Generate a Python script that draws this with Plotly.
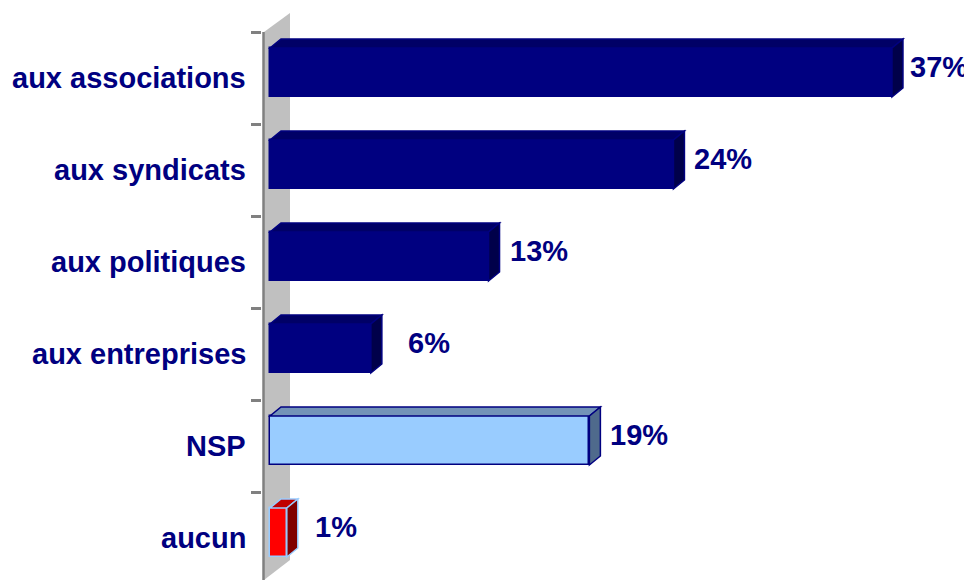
import plotly.graph_objects as go

# ---- data ----
categories = ["aux associations", "aux syndicats", "aux politiques",
              "aux entreprises", "NSP", "aucun"]
values = [37, 24, 13, 6, 19, 1]
value_labels = ["37%", "24%", "13%", "6%", "19%", "1%"]

# ---- styles ----
front_colors = ["#000080", "#000080", "#000080", "#000080", "#99CCFF", "#FF0000"]
top_colors = ["#000066", "#000066", "#000066", "#000066", "#7393B8", "#C00000"]
side_colors = ["#00004A", "#00004A", "#00004A", "#00004A", "#4F6A8C", "#800000"]
line_colors = ["#000080", "#000080", "#000080", "#000080", "#000080", "#99CCFF"]
label_gaps = [5, 8, 8, 24, 8, 15]

# page is rendered with an 8px body margin; work in page pixels and offset
OFF = 8
W, H = 972 - OFF, 580 - OFF
PXU = 16.81                 # pixels per percent
ORIGIN_PX = 270 - OFF       # pixel of x = 0
CAT_PX = 92                 # pixels per category
SEP0_PX = 32 - OFF          # pixel of first category separator
ML, MR, MT, MB = 262 - OFF, 0, 13 - OFF, 0
PW = W - ML - MR

X0 = (ML - ORIGIN_PX) / PXU
X1 = X0 + PW / PXU
Y_TOP = -0.5 - (SEP0_PX - MT) / CAT_PX
Y_BOT = -0.5 + (H - MB - SEP0_PX) / CAT_PX


def xd(px):
    return (px - OFF - ORIGIN_PX) / PXU


def yd(py):
    return (py - OFF - SEP0_PX) / CAT_PX - 0.5


DX = 11 / PXU
DY = 9 / CAT_PX
F_TOP = -30 / CAT_PX
F_BOT = 19 / CAT_PX

fig = go.Figure()

ypos = [i + (F_TOP + F_BOT) / 2 for i in range(len(categories))]
fig.add_trace(go.Bar(
    x=values, y=ypos, orientation="h", base=0,
    width=F_BOT - F_TOP,
    marker=dict(color=front_colors, line=dict(color=line_colors, width=1.5)),
    hoverinfo="skip", showlegend=False,
))

shapes = []
# back wall
wall = (f"M {xd(264)},{yd(32)} L {xd(290)},{yd(13)} L {xd(290)},{yd(560)} "
        f"L {xd(264)},{yd(580)} Z")
shapes.append(dict(type="path", path=wall, xref="x", yref="y",
                   fillcolor="#C0C0C0", line=dict(width=0), layer="below"))
# axis line
shapes.append(dict(type="line", xref="x", yref="y", x0=xd(263.5), x1=xd(263.5),
                   y0=yd(32), y1=yd(580), line=dict(color="#808080", width=2.5)))

for i, v in enumerate(values):
    yt = i + F_TOP
    yb = i + F_BOT
    top = (f"M 0,{yt} L {v},{yt} L {v + DX},{yt - DY} L {DX},{yt - DY} Z")
    side = (f"M {v},{yt} L {v + DX},{yt - DY} L {v + DX},{yb - DY} L {v},{yb} Z")
    shapes.append(dict(type="path", path=top, xref="x", yref="y",
                       fillcolor=top_colors[i],
                       line=dict(color=line_colors[i], width=1.5)))
    shapes.append(dict(type="path", path=side, xref="x", yref="y",
                       fillcolor=side_colors[i],
                       line=dict(color=line_colors[i], width=1.5)))

annotations = []
FONT = dict(family="Arial, Liberation Sans, sans-serif", size=29,
            color="#000080", weight="bold")
for i, (v, t) in enumerate(zip(values, value_labels)):
    annotations.append(dict(x=v + DX, y=i, xref="x", yref="y", text=t,
                            showarrow=False, xanchor="left", yanchor="middle",
                            xshift=label_gaps[i], yshift=11, font=FONT))
for i, c in enumerate(categories):
    annotations.append(dict(x=0, y=i, xref="paper", yref="y", text=c,
                            showarrow=False, xanchor="right", yanchor="middle",
                            xshift=-(262 - 248), font=FONT))

fig.update_layout(
    width=W, height=H,
    margin=dict(l=ML, r=MR, t=MT, b=MB, pad=0, autoexpand=False),
    paper_bgcolor="white", plot_bgcolor="white",
    shapes=shapes, annotations=annotations,
    xaxis=dict(range=[X0, X1], visible=False, fixedrange=True,
               automargin=False),
    yaxis=dict(range=[Y_BOT, Y_TOP], showgrid=False, zeroline=False,
               showline=False, tickmode="array", automargin=False,
               tickvals=[k - 0.5 for k in range(len(categories) + 1)],
               ticktext=[""] * (len(categories) + 1),
               ticks="outside", ticklen=10, tickwidth=2.5, tickcolor="#808080",
               fixedrange=True),
    bargap=0,
)

fig.write_html("out.html")
